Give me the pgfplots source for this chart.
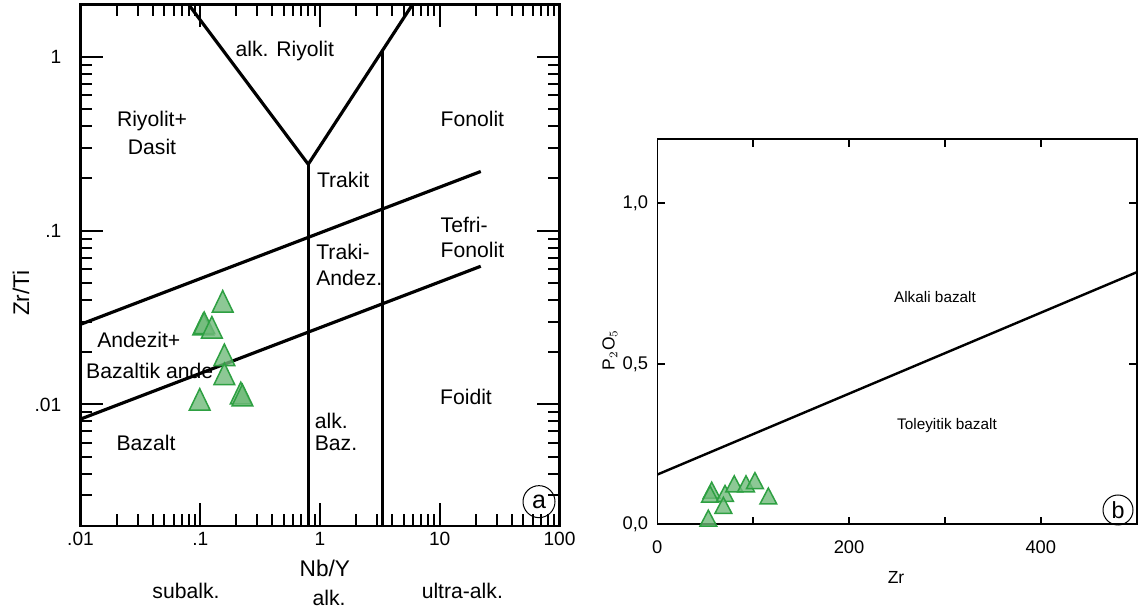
\documentclass[border=0pt]{standalone}
\usepackage{fontspec}
\setmainfont{Liberation Sans}
\usepackage{pgfplots}
\pgfplotsset{compat=1.18}
\definecolor{trifill}{RGB}{112,186,122}
\definecolor{triedge}{RGB}{46,160,66}

\begin{document}
\begin{tikzpicture}
\useasboundingbox (0,0) rectangle (682.8pt,-365.4pt);

% (a) Nb/Y - Zr/Ti
\begin{axis}[
  at={(48.3pt,-315.6pt)}, anchor=south west,
  width=287.4pt, height=312.9pt, scale only axis,
  xmode=log, ymode=log,
  xmin=0.01, xmax=100, ymin=0.002, ymax=2,
  xtick={0.01,0.1,1,10,100}, xticklabels={.01,.1,1,10,100},
  ytick={0.01,0.1,1}, yticklabels={.01,.1,1},
  minor xtick={0.02,0.03,0.04,0.05,0.06,0.07,0.08,0.09,
               0.2,0.3,0.4,0.5,0.6,0.7,0.8,0.9,
               2,3,4,5,6,7,8,9,20,30,40,50,60,70,80,90},
  minor ytick={0.003,0.004,0.005,0.006,0.007,0.008,0.009,
               0.02,0.03,0.04,0.05,0.06,0.07,0.08,0.09,
               0.2,0.3,0.4,0.5,0.6,0.7,0.8,0.9},
  tick align=inside,
  major tick length=13.8pt, minor tick length=7.2pt,
  axis line style={line width=1.4pt},
  tick style={black, line width=1.2pt},
  ticklabel style={font=\fontsize{11.5}{13}\selectfont},
  yticklabel style={xshift=-8pt},
]
\addplot[black, line width=1.9pt] coordinates {(0.080,2)(0.798,0.241)(5.92,2)};
\addplot[black, line width=1.9pt] coordinates {(0.798,0.241)(0.798,0.002)};
\addplot[black, line width=1.9pt] coordinates {(3.31,1.08)(3.31,0.002)};
\addplot[black, line width=1.9pt] coordinates {(0.01,0.0289)(22,0.219)};
\addplot[black, line width=1.9pt] coordinates {(0.01,0.00824)(22,0.0624)};
\addplot[only marks, mark=triangle*, mark size=7.2pt,
  mark options={draw=triedge, fill=trifill, fill opacity=0.8, line width=0.9pt, yscale=1.2}]
  coordinates {
  (0.154,0.0374)(0.106,0.0277)(0.108,0.0281)(0.125,0.0265)
  (0.159,0.0184)(0.159,0.0143)(0.099,0.0102)
  (0.218,0.0111)(0.225,0.0108)
};
\end{axis}

% (b) Zr - P2O5
\begin{axis}[
  at={(394.4pt,-314.6pt)}, anchor=south west,
  width=287.6pt, height=231.2pt, scale only axis,
  xmin=0, xmax=500, ymin=0, ymax=1.2,
  xtick={0,100,200,300,400}, xticklabels={0,,200,,400},
  ytick={0,0.5,1}, yticklabels={{0,0},{0,5},{1,0}},
  tick align=inside, major tick length=4.6pt,
  axis line style={line width=1pt},
  tick style={black, line width=1pt},
  ticklabel style={font=\fontsize{11}{13}\selectfont},
  xticklabel style={yshift=-6pt},
  yticklabel style={xshift=-2pt},
]
\addplot[black, line width=1.45pt] coordinates {(0,0.155)(500,0.785)};
\addplot[only marks, mark=triangle*, mark size=5.8pt,
  mark options={draw=triedge, fill=trifill, fill opacity=0.8, line width=0.9pt, yscale=1.1}]
  coordinates {
  (56.7,0.098)(55.0,0.086)(70.6,0.088)(68.9,0.051)(80.2,0.118)
  (92.5,0.118)(101.8,0.128)(115.8,0.080)(53.2,0.011)
};
\end{axis}

% labels, plot (a)
\begin{scope}[every node/.style={font=\fontsize{12.7}{15}\selectfont, inner sep=0pt}]
\node at (170.9pt,-30.4pt) {alk. Riyolit};
\node[align=center, font=\fontsize{12.7}{17}\selectfont] at (91.2pt,-79.8pt) {Riyolit+\\Dasit};
\node at (283.4pt,-71.4pt) {Fonolit};
\node[anchor=west] at (190pt,-108pt) {Trakit};
\node[anchor=west, align=left, font=\fontsize{12.7}{15}\selectfont] at (264.2pt,-142.5pt) {Tefri-\\Fonolit};
\node[anchor=west, align=left, font=\fontsize{12.7}{15.6}\selectfont] at (189.6pt,-159pt) {Traki-\\Andez.};
\node[anchor=west] at (58.2pt,-204pt) {Andezit+};
\node[anchor=west] at (51.5pt,-222.4pt) {Bazaltik ande};
\node at (87.6pt,-266pt) {Bazalt};
\node at (279.6pt,-238.4pt) {Foidit};
\node[anchor=west, align=left, font=\fontsize{12.7}{13.6}\selectfont] at (188.7pt,-259.2pt) {alk.\\Baz.};
\node[font=\fontsize{13.6}{15}\selectfont] at (194.9pt,-341pt) {Nb/Y};
\node at (111.6pt,-354.4pt) {subalk.};
\node at (197.4pt,-359pt) {alk.};
\node at (277.4pt,-354.4pt) {ultra-alk.};
\node[rotate=90, font=\fontsize{13.6}{15}\selectfont] at (12.6pt,-175.8pt) {Zr/Ti};
\node[font=\fontsize{15}{17}\selectfont] at (323.4pt,-301pt) {a};
\end{scope}
\draw[line width=0.6pt] (323.4pt,-301pt) circle (9.6pt);

% labels, plot (b)
\begin{scope}[every node/.style={font=\fontsize{9.2}{11}\selectfont, inner sep=0pt}]
\node at (561pt,-178.2pt) {Alkali bazalt};
\node at (568.2pt,-255.6pt) {Toleyitik bazalt};
\node[font=\fontsize{10.5}{12}\selectfont] at (537.6pt,-346.2pt) {Zr};
\node[rotate=90, font=\fontsize{10.5}{12}\selectfont] at (366pt,-210pt) {P$_2$O$_5$};
\node[font=\fontsize{14}{16}\selectfont] at (670.8pt,-306pt) {b};
\end{scope}
\draw[line width=0.6pt] (670.8pt,-306pt) circle (9pt);
\end{tikzpicture}
\end{document}
